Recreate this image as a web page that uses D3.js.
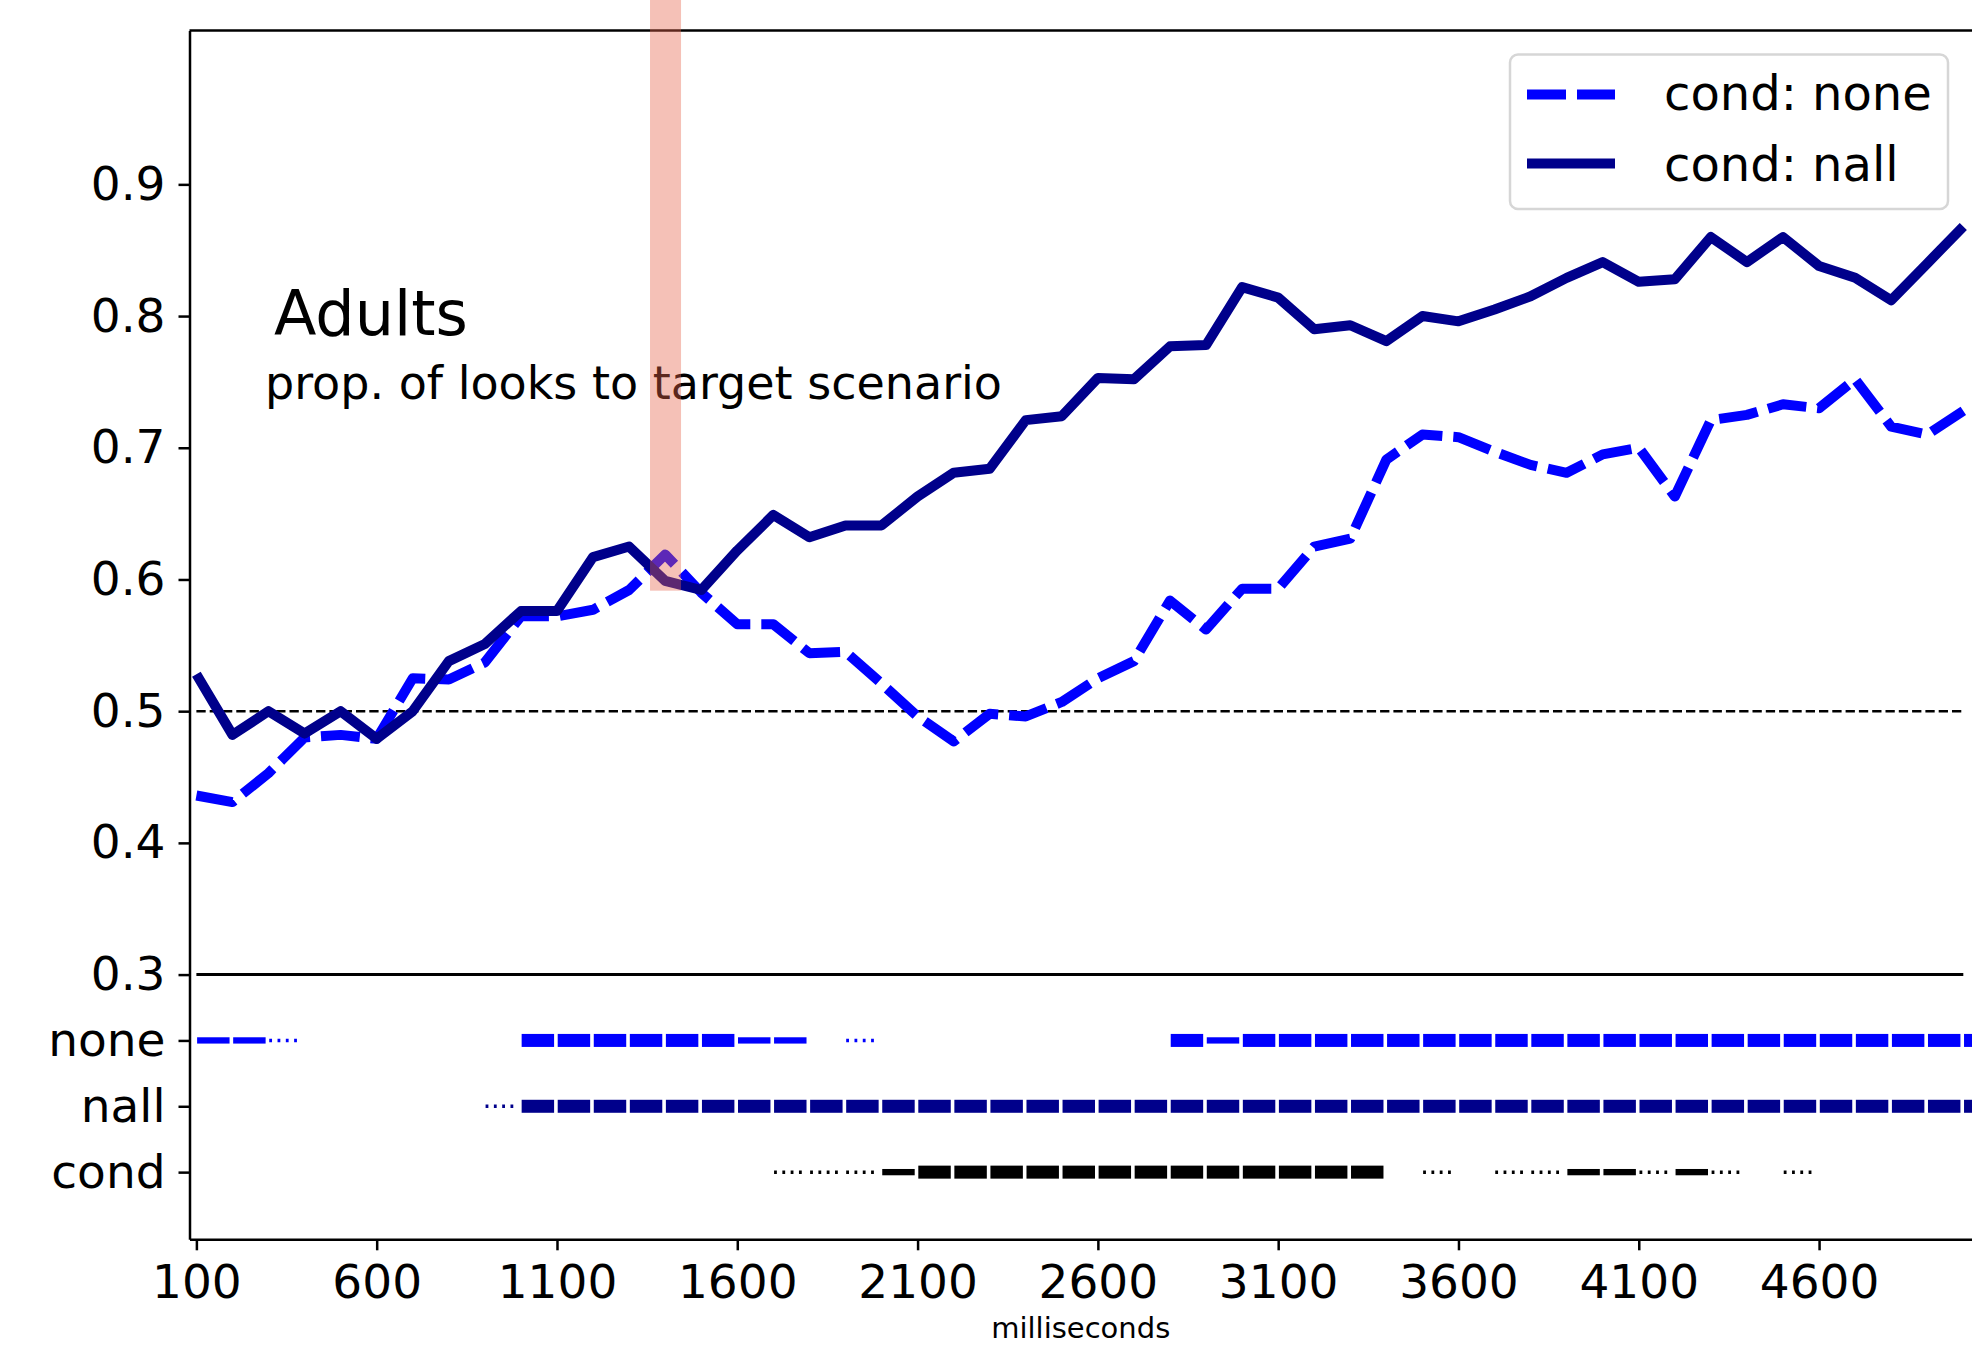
<!DOCTYPE html>
<html>
<head>
<meta charset="utf-8">
<script src="https://cdn.jsdelivr.net/npm/d3@7"></script>
<style>
    body { margin: 0; background: #fff; }
    svg { display: block; font-family: "DejaVu Sans", sans-serif; }
</style>
</head>
<body>
<script>
// time bins (ms)
let times = [100, 200, 300, 400, 500, 600, 700, 800, 900, 1000,
    1100, 1200, 1300, 1400, 1500, 1600, 1700, 1800, 1900, 2000,
    2100, 2200, 2300, 2400, 2500, 2600, 2700, 2800, 2900, 3000,
    3100, 3200, 3300, 3400, 3500, 3600, 3700, 3800, 3900, 4000,
    4100, 4200, 4300, 4400, 4500, 4600, 4700, 4800, 4900, 5000];

// prop. of looks to target, per condition
let noneValues = [0.436, 0.431, 0.453, 0.480, 0.482, 0.479, 0.525, 0.524, 0.537, 0.572,
    0.572, 0.577, 0.592, 0.619, 0.590, 0.566, 0.566, 0.544, 0.545, 0.521,
    0.496, 0.477, 0.498, 0.496, 0.507, 0.525, 0.538, 0.584, 0.562, 0.593,
    0.593, 0.625, 0.631, 0.691, 0.710, 0.708, 0.697, 0.687, 0.681, 0.695,
    0.700, 0.663, 0.721, 0.725, 0.733, 0.730, 0.752, 0.716, 0.710, 0.728];

let nallValues = [0.528, 0.482, 0.500, 0.483, 0.500, 0.479, 0.500, 0.538, 0.551, 0.576,
    0.576, 0.617, 0.625, 0.599, 0.592, 0.622, 0.649, 0.632, 0.641, 0.641,
    0.663, 0.681, 0.684, 0.721, 0.724, 0.753, 0.752, 0.777, 0.778, 0.822,
    0.814, 0.790, 0.793, 0.781, 0.800, 0.796, 0.805, 0.815, 0.829, 0.841,
    0.826, 0.828, 0.860, 0.841, 0.860, 0.838, 0.829, 0.812, 0.840, 0.868];

// significance per bin: 0 nothing, 1 dotted, 2 medium, 3 thick
let sigNone = [2, 2, 1, 0, 0, 0, 0, 0, 0, 3,
    3, 3, 3, 3, 3, 2, 2, 0, 1, 0,
    0, 0, 0, 0, 0, 0, 0, 3, 2, 3,
    3, 3, 3, 3, 3, 3, 3, 3, 3, 3,
    3, 3, 3, 3, 3, 3, 3, 3, 3, 3];
let sigNall = [0, 0, 0, 0, 0, 0, 0, 0, 1, 3,
    3, 3, 3, 3, 3, 3, 3, 3, 3, 3,
    3, 3, 3, 3, 3, 3, 3, 3, 3, 3,
    3, 3, 3, 3, 3, 3, 3, 3, 3, 3,
    3, 3, 3, 3, 3, 3, 3, 3, 3, 3];
let sigCond = [0, 0, 0, 0, 0, 0, 0, 0, 0, 0,
    0, 0, 0, 0, 0, 0, 1, 1, 1, 2,
    3, 3, 3, 3, 3, 3, 3, 3, 3, 3,
    3, 3, 3, 0, 1, 0, 1, 1, 2, 2,
    1, 2, 1, 0, 1, 0, 0, 0, 0, 0];

let rowNames = ["none", "nall", "cond"];
let rowLevels = [0.25, 0.2, 0.15];
let yTickValues = [0.3, 0.4, 0.5, 0.6, 0.7, 0.8, 0.9];
let xTickValues = [100, 600, 1100, 1600, 2100, 2600, 3100, 3600, 4100, 4600];
let legendLabels = ["cond: none", "cond: nall"];
let chanceLevel = 0.5;
let floorLevel = 0.3;
let highlightSpan = [1358, 1444];
let highlightBottom = 0.5915;

let svgWidth = 1972,
    svgHeight = 1348,
    plot = {left: 189.5, right: 1972, top: 30.4, bottom: 1239.3},
    xLimits = [80.9, 5024.1],
    yLimits = [0.099, 1.0169],
    noneColor = "#0000ff",
    nallColor = "#00008b",
    condColor = "#000000",
    lineWidth = 10,
    dashPattern = "39,11",
    tickFont = 47;

let x = d3.scaleLinear().domain(xLimits).range([plot.left, plot.right]);
let y = d3.scaleLinear().domain(yLimits).range([plot.bottom, plot.top]);

let svg = d3.select("body").append("svg")
    .attr("width", svgWidth)
    .attr("height", svgHeight);

function styleAxis(g) {
    g.attr("font-family", "DejaVu Sans, sans-serif").attr("font-size", tickFont);
    g.select(".domain").attr("stroke", "#000").attr("stroke-width", 2.5);
    g.selectAll(".tick line").attr("stroke", "#000").attr("stroke-width", 2.5);
    g.selectAll(".tick text").attr("fill", "#000");
}

// axes
let yAxis = d3.axisLeft(y)
    .tickValues(yTickValues.concat(rowLevels))
    .tickFormat(d => {
        let i = rowLevels.indexOf(d);
        return i >= 0 ? rowNames[i] : d3.format(".1f")(d);
    })
    .tickSize(11).tickPadding(13).tickSizeOuter(0);

svg.append("g")
    .attr("transform", "translate(" + plot.left + ",0)")
    .call(yAxis)
    .call(styleAxis);

let xAxis = d3.axisBottom(x)
    .tickValues(xTickValues)
    .tickFormat(d3.format("d"))
    .tickSize(11).tickPadding(14).tickSizeOuter(0);

svg.append("g")
    .attr("transform", "translate(0," + plot.bottom + ")")
    .call(xAxis)
    .call(styleAxis);

// top spine
svg.append("line")
    .attr("x1", plot.left).attr("x2", plot.right)
    .attr("y1", plot.top).attr("y2", plot.top)
    .attr("stroke", "#000").attr("stroke-width", 2.5);

svg.append("text")
    .attr("x", (plot.left + plot.right) / 2)
    .attr("y", 1338)
    .attr("text-anchor", "middle")
    .attr("font-size", 29)
    .text("milliseconds");

// reference lines
svg.append("line")
    .attr("x1", x(times[0])).attr("x2", x(times[times.length - 1]))
    .attr("y1", y(floorLevel)).attr("y2", y(floorLevel))
    .attr("stroke", "#000").attr("stroke-width", 3);

svg.append("line")
    .attr("x1", x(times[0])).attr("x2", x(times[times.length - 1]))
    .attr("y1", y(chanceLevel)).attr("y2", y(chanceLevel))
    .attr("stroke", "#000").attr("stroke-width", 2.5)
    .attr("stroke-dasharray", "9.3,4");

// data lines
let line = d3.line()
    .x((d, i) => x(times[i]))
    .y(d => y(d));

svg.append("path")
    .datum(noneValues)
    .attr("d", line)
    .attr("fill", "none")
    .attr("stroke", noneColor)
    .attr("stroke-width", lineWidth)
    .attr("stroke-dasharray", dashPattern)
    .attr("stroke-linejoin", "round");

svg.append("path")
    .datum(nallValues)
    .attr("d", line)
    .attr("fill", "none")
    .attr("stroke", nallColor)
    .attr("stroke-width", lineWidth)
    .attr("stroke-linejoin", "round");

// significance strips
function drawStrip(levels, rowValue, color) {
    let cy = y(rowValue);
    levels.forEach((level, i) => {
        let t = times[i];
        if (level === 3 || level === 2) {
            let h = level === 3 ? 13 : 6.3;
            svg.append("rect")
                .attr("x", x(t + 2))
                .attr("y", cy - h / 2)
                .attr("width", x(t + 92) - x(t + 2))
                .attr("height", h)
                .attr("fill", color);
        } else if (level === 1) {
            svg.append("line")
                .attr("x1", x(t + 2)).attr("x2", x(t + 81))
                .attr("y1", cy).attr("y2", cy)
                .attr("stroke", color)
                .attr("stroke-width", 3.5)
                .attr("stroke-dasharray", "2.8,5.5");
        }
    });
}

drawStrip(sigNone, rowLevels[0], noneColor);
drawStrip(sigNall, rowLevels[1], nallColor);
drawStrip(sigCond, rowLevels[2], condColor);

// legend
let legend = svg.append("g");
legend.append("rect")
    .attr("x", 1510).attr("y", 54.5)
    .attr("width", 438).attr("height", 154.5)
    .attr("rx", 8)
    .attr("fill", "#fff").attr("fill-opacity", 0.8)
    .attr("stroke", "#d6d6d6").attr("stroke-width", 2.5);

[noneColor, nallColor].forEach((c, i) => {
    let ly = 94.6 + i * 69;
    legend.append("line")
        .attr("x1", 1527).attr("x2", 1615)
        .attr("y1", ly).attr("y2", ly)
        .attr("stroke", c)
        .attr("stroke-width", lineWidth)
        .attr("stroke-dasharray", i === 0 ? dashPattern : null);
    legend.append("text")
        .attr("x", 1664)
        .attr("y", 110 + i * 71)
        .attr("font-size", 48)
        .text(legendLabels[i]);
});

// titles
svg.append("text")
    .attr("x", 274).attr("y", 335)
    .attr("font-size", 62)
    .text("Adults");

svg.append("text")
    .attr("x", 265).attr("y", 399)
    .attr("font-size", 46)
    .text("prop. of looks to target scenario");

// highlighted window, drawn over everything
svg.append("rect")
    .attr("x", x(highlightSpan[0]))
    .attr("width", x(highlightSpan[1]) - x(highlightSpan[0]))
    .attr("y", 0)
    .attr("height", y(highlightBottom))
    .attr("fill", "rgb(230,100,75)")
    .attr("fill-opacity", 0.4);
</script>
</body>
</html>
